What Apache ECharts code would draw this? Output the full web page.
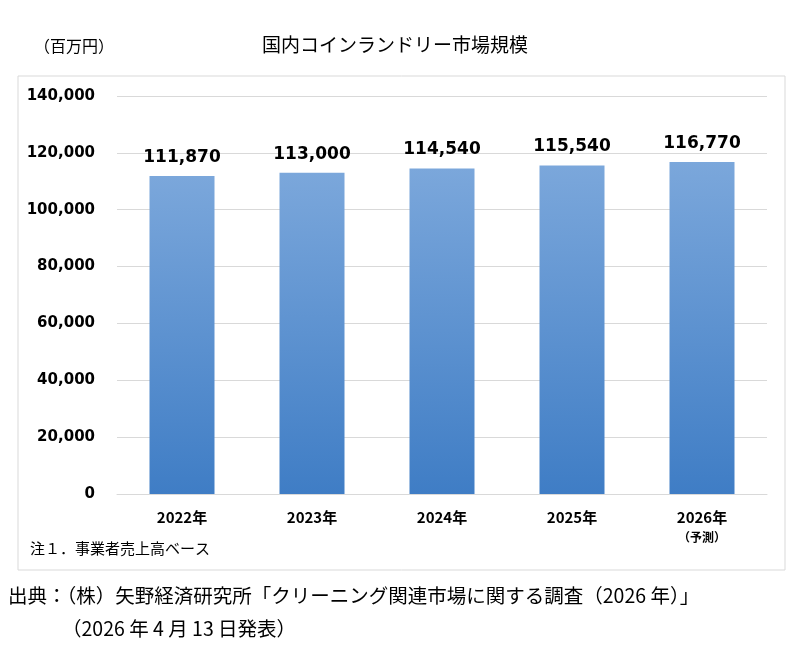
<!DOCTYPE html>
<html><head><meta charset="utf-8">
<script src="https://cdn.jsdelivr.net/npm/echarts@6/dist/echarts.min.js"></script>
<style>html,body{margin:0;padding:0;background:#fff}#c{width:800px;height:650px}</style>
</head><body><div id="c"></div>
<script>
const categories = ['2022年','2023年','2024年','2025年','2026年'];
const values = [111870,113000,114540,115540,116770];
const F = '"Noto Sans CJK JP", sans-serif';
const chart = echarts.init(document.getElementById('c'));
chart.setOption({
  animation:false,
  graphic:[
    {type:'rect',shape:{x:18,y:76,width:767,height:494},style:{fill:'none',stroke:'#d9d9d9',lineWidth:1}},
    {type:'text',left:262,top:35,style:{text:'国内コインランドリー市場規模',font:'19px '+F,fill:'#000'}},
    {type:'text',left:34,top:38,style:{text:'（百万円）',font:'16px '+F,fill:'#000'}},
    {type:'text',left:30,top:541,style:{text:'注１．事業者売上高ベース',font:'15px '+F,fill:'#000'}},
    {type:'text',left:8,top:586,style:{text:'出典：（株）矢野経済研究所「クリーニング関連市場に関する調査（2026 年）」',font:'19.5px '+F,fill:'#000'}},
    {type:'text',left:62,top:619,style:{text:'（2026 年 4 月 13 日発表）',font:'19.5px '+F,fill:'#000'}}
  ],
  grid:{left:117,right:33,top:96,bottom:156},
  xAxis:{type:'category',data:categories,
    axisLine:{lineStyle:{color:'#d9d9d9'}},axisTick:{show:false},
    axisLabel:{margin:16,color:'#000',fontWeight:'bold',fontSize:15,fontFamily:F,
      formatter:(v,i)=> i===4 ? v+'\n{s|（予測）}' : v,
      rich:{s:{fontSize:12,fontWeight:'bold',fontFamily:F,color:'#000',padding:[6,0,0,0]}}}},
  yAxis:{type:'value',min:0,max:140000,interval:20000,
    splitLine:{lineStyle:{color:'#d9d9d9'}},axisLine:{show:false},axisTick:{show:false},
    axisLabel:{margin:22,color:'#000',fontWeight:'bold',fontSize:15,fontFamily:'"DejaVu Sans", sans-serif',
      formatter:v=>v.toLocaleString('en-US')}},
  series:[{type:'bar',data:values,barWidth:65,
    itemStyle:{color:new echarts.graphic.LinearGradient(0,0,0,1,[{offset:0,color:'#7ba7db'},{offset:1,color:'#3f7dc5'}])},
    label:{show:true,position:'top',distance:10,color:'#000',fontWeight:'bold',fontSize:17,
      fontFamily:'"DejaVu Sans", sans-serif',formatter:p=>p.value.toLocaleString('en-US')}}]
});
</script></body></html>
